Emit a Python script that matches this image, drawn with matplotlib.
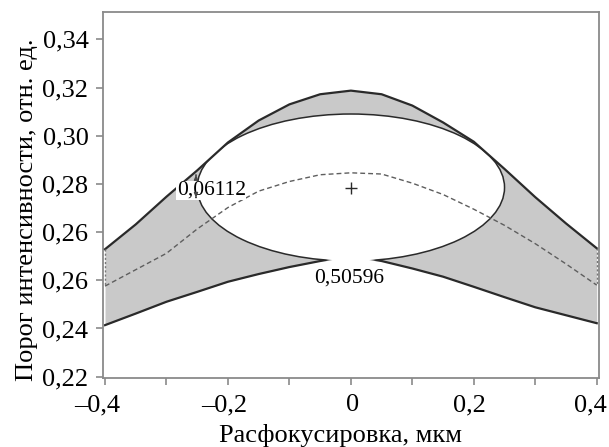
import numpy as np
import matplotlib
matplotlib.use("Agg")
import matplotlib.pyplot as plt
import matplotlib.transforms as mtransforms
from matplotlib.patches import Ellipse, Polygon

plt.rcParams['font.family'] = ['Liberation Serif', 'DejaVu Serif']

# ---- data ----
defocus = [-0.40, -0.35, -0.30, -0.25, -0.20, -0.15, -0.10, -0.05, 0.00,
           0.05, 0.10, 0.15, 0.20, 0.25, 0.30, 0.35, 0.40]
upper = [0.2729, 0.2832, 0.2947, 0.3056, 0.3172, 0.3263, 0.3330, 0.3372, 0.3387,
         0.3372, 0.3325, 0.3255, 0.3175, 0.3062, 0.2945, 0.2836, 0.2733]
lower = [0.2414, 0.2462, 0.2511, 0.2552, 0.2594, 0.2626, 0.2655, 0.2680, 0.2702,
         0.2680, 0.2649, 0.2615, 0.2573, 0.2530, 0.2488, 0.2455, 0.2422]
middle = [0.2576, 0.2644, 0.2712, 0.2813, 0.2902, 0.2970, 0.3010, 0.3038, 0.3046,
          0.3041, 0.3003, 0.2956, 0.2895, 0.2828, 0.2752, 0.2668, 0.2580]

ellipse_center = (0.0, 0.2985)
ellipse_halfwidth = 0.25
ellipse_halfheight = 0.0305

label_el = "0,06112"
label_dof = "0,50596"

ytick_pos = [0.22, 0.24, 0.26, 0.28, 0.30, 0.32, 0.34, 0.36]
ytick_lab = ['0,22', '0,24', '0,26', '0,26', '0,28', '0,30', '0,32', '0,34']
xtick_pos = [-0.4, -0.2, 0.0, 0.2, 0.4]
xtick_lab = ['\u20130,4', '\u20130,2', '0', '0,2', '0,4']
xminor_pos = [-0.3, -0.1, 0.1, 0.3]

# ---- figure ----
fig = plt.figure(figsize=(6.09, 4.47), dpi=100)
ax = fig.add_axes([103/609, 1-378/447, (599-103)/609, (378-12)/447])

x = np.array(defocus)
up = np.array(upper)
lo = np.array(lower)
mid = np.array(middle)

fill_c = '#c9c9c9'
line_c = '#2a2a2a'

ax.fill_between(x, lo, up, color=fill_c, lw=0, zorder=1)
ax.plot(x, lo, color=line_c, lw=1.6, zorder=2)

ell_fill = Ellipse(ellipse_center, 2*ellipse_halfwidth, 2*ellipse_halfheight,
                   facecolor='white', edgecolor='none', zorder=3)
ax.add_patch(ell_fill)

window = Polygon(np.column_stack([np.r_[x, x[::-1]], np.r_[up, lo[::-1]]]),
                 closed=True, transform=ax.transData, facecolor='none', edgecolor='none')
ell_line = Ellipse(ellipse_center, 2*ellipse_halfwidth, 2*ellipse_halfheight,
                   facecolor='none', edgecolor=line_c, lw=1.1, zorder=4)
ax.add_patch(ell_line)
ell_line.set_clip_path(window)

ax.plot(x, up, color=line_c, lw=1.6, zorder=5)
ax.plot(x, mid, color='#5e5e5e', lw=1.0, ls=(0, (3.5, 2.2)), zorder=5)

# vertical dotted edges
for i in (0, -1):
    ax.plot([x[i], x[i]], [up[i], mid[i]], color='#777777', lw=1.0,
            ls=(0, (1.5, 1.5)), zorder=5)

ax.plot(ellipse_center[0], ellipse_center[1], marker='+', color=line_c,
        ms=8, mew=1.0, zorder=6)

# annotations
ax.text(-0.2834, 0.2954, label_el, fontsize=15.5, ha='left', va='baseline', zorder=7,
        bbox=dict(facecolor='white', edgecolor='none', pad=0.3))
ax.annotate('', xy=(-0.252, 0.3050), xytext=(-0.252, 0.3025),
            arrowprops=dict(arrowstyle='-|>,head_length=0.3,head_width=0.12',
                            color='#444444', lw=0.8), zorder=7)
ax.annotate('', xy=(-0.252, 0.2930), xytext=(-0.252, 0.2955),
            arrowprops=dict(arrowstyle='-|>,head_length=0.3,head_width=0.12',
                            color='#444444', lw=0.8), zorder=7)
ax.text(-0.003, 0.2589, label_dof, fontsize=15.5, ha='center', va='baseline', zorder=7)

# axes styling
ax.set_xlim(-0.4033, 0.4037)
ax.set_ylim(0.21946, 0.37133)
ax.set_xticks(xtick_pos)
ax.set_xticklabels(xtick_lab)
ax.set_xticks(xminor_pos, minor=True)
ax.set_yticks(ytick_pos)
ax.set_yticklabels(ytick_lab)

spine_c = '#8a8a8a'
for s in ax.spines.values():
    s.set_color(spine_c)
    s.set_linewidth(1.3)
ax.tick_params(axis='both', which='both', direction='out', length=5, width=1.2,
               color=spine_c, labelsize=19, labelcolor='black')
ax.tick_params(axis='x', which='major', pad=6.5)
ax.tick_params(axis='y', which='major', pad=5.5)

# small horizontal offsets of x tick labels as in the reference
shifts_px = [-8, -4, 2, -4, -6]
for lab, dx in zip(ax.get_xticklabels(), shifts_px):
    off = mtransforms.ScaledTranslation(dx/100, 0, fig.dpi_scale_trans)
    lab.set_transform(lab.get_transform() + off)

ax.set_xlabel('Расфокусировка, мкм', fontsize=19)
ax.xaxis.set_label_coords(0.478, -0.1257)
ax.set_ylabel('Порог интенсивности, отн. ед.', fontsize=19)
ax.yaxis.set_label_coords(-0.131, 0.459)

fig.savefig('out.png', dpi=100)
